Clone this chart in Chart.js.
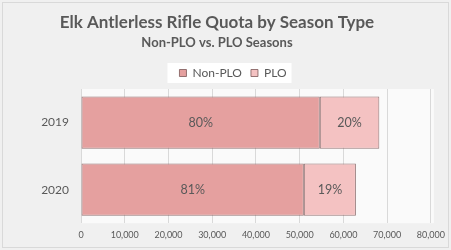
<!DOCTYPE html>
<html>
<head>
<meta charset="utf-8">
<script src="https://cdn.jsdelivr.net/npm/chart.js@4.4.0/dist/chart.umd.min.js"></script>
<style>
    html, body { margin: 0; padding: 0; background: #f0f0f0; }
    #wrap { width: 451px; height: 250px; position: relative; }
</style>
</head>
<body>
<div id="wrap"><canvas id="chart"></canvas></div>
<script>
// Chart data
const seasons = ["2019", "2020"];
const nonPloQuota = [54600, 50950];
const ploQuota = [13600, 11900];
const seriesNames = ["Non-PLO", "PLO"];
const xMax = 80000;
const xStep = 10000;

const textGray = "#595959";
const fontFamily = "Lato, 'Open Sans', sans-serif";
const legendShift = 16; // legend sits a little right of the title centre

// Outer border, plot background and legend box
const backdropPlugin = {
    id: "backdrop",
    afterLayout(chart) {
        const legend = chart.legend;
        legend.left += legendShift;
        legend.right += legendShift;
        legend.legendHitBoxes.forEach((b) => { b.left += legendShift; });
    },
    beforeDraw(chart) {
        const { ctx, chartArea, legend } = chart;
        ctx.save();
        ctx.fillStyle = "#f0f0f0";
        ctx.fillRect(0, 0, chart.width, chart.height);
        ctx.strokeStyle = "#d9d9d9";
        ctx.lineWidth = 1;
        ctx.strokeRect(2.5, 2.5, chart.width - 5, chart.height - 5);

        ctx.fillStyle = "#fafafa";
        ctx.fillRect(chartArea.left, chartArea.top, chartArea.right - chartArea.left + 3, chartArea.bottom - chartArea.top);

        // white box behind legend items
        const boxes = legend.legendHitBoxes;
        if (boxes && boxes.length) {
            const first = boxes[0];
            const last = boxes[boxes.length - 1];
            ctx.fillStyle = "#ffffff";
            ctx.fillRect(first.left - 12, first.top - 4, last.left + last.width - first.left + 17, first.height + 8);
        }
        ctx.restore();
    },
};

// Percentage share printed inside each bar segment
const shareLabelPlugin = {
    id: "shareLabels",
    afterDatasetsDraw(chart) {
        const { ctx } = chart;
        ctx.save();
        ctx.fillStyle = textGray;
        ctx.font = "12.5px " + fontFamily;
        ctx.textAlign = "center";
        ctx.textBaseline = "middle";
        chart.data.datasets.forEach((ds, di) => {
            const meta = chart.getDatasetMeta(di);
            meta.data.forEach((bar, i) => {
                const total = nonPloQuota[i] + ploQuota[i];
                const pct = Math.round((ds.data[i] / total) * 100) + "%";
                ctx.fillText(pct, (bar.x + bar.base) / 2, bar.y);
            });
        });
        ctx.restore();
    },
};

const ctx = document.getElementById("chart").getContext("2d");
new Chart(ctx, {
    type: "bar",
    data: {
        labels: seasons,
        datasets: [
            {
                label: seriesNames[0],
                data: nonPloQuota,
                backgroundColor: "#e5a09f",
                borderColor: "rgba(130,95,95,0.85)",
                borderWidth: 1,
                borderSkipped: false,
                categoryPercentage: 1,
                barPercentage: 0.78,
            },
            {
                label: seriesNames[1],
                data: ploQuota,
                backgroundColor: "#f4c2c2",
                borderColor: "rgba(130,95,95,0.85)",
                borderWidth: 1,
                borderSkipped: false,
                categoryPercentage: 1,
                barPercentage: 0.78,
            },
        ],
    },
    options: {
        indexAxis: "y",
        responsive: true,
        maintainAspectRatio: false,
        animation: false,
        layout: { padding: { left: 0, right: 17, top: 0, bottom: 4 } },
        plugins: {
            title: {
                display: true,
                text: "Elk Antlerless Rifle Quota by Season Type",
                color: textGray,
                font: { family: fontFamily, size: 17, weight: "bold" },
                padding: { top: 12, bottom: 0 },
            },
            subtitle: {
                display: true,
                text: "Non-PLO vs. PLO Seasons",
                color: textGray,
                font: { family: fontFamily, size: 13, weight: "bold" },
                padding: { top: 3, bottom: 7 },
            },
            legend: {
                position: "top",
                labels: {
                    color: textGray,
                    font: { family: fontFamily, size: 12 },
                    boxWidth: 7,
                    boxHeight: 7,
                    padding: 9,
                },
            },
            tooltip: { enabled: false },
        },
        scales: {
            x: {
                stacked: true,
                min: 0,
                max: xMax,
                ticks: {
                    stepSize: xStep,
                    color: textGray,
                    font: { family: fontFamily, size: 9 },
                    padding: 6,
                    maxRotation: 0,
                    callback: (v) => v.toLocaleString("en-US"),
                },
                grid: { color: "#d9d9d9", drawTicks: false },
                border: { display: false },
            },
            y: {
                stacked: true,
                ticks: {
                    color: textGray,
                    font: { family: fontFamily, size: 12 },
                    padding: 4,
                },
                grid: { display: false },
                border: { display: false },
                afterFit: (scale) => { scale.width = 81; },
            },
        },
    },
    plugins: [backdropPlugin, shareLabelPlugin],
});
</script>
</body>
</html>
